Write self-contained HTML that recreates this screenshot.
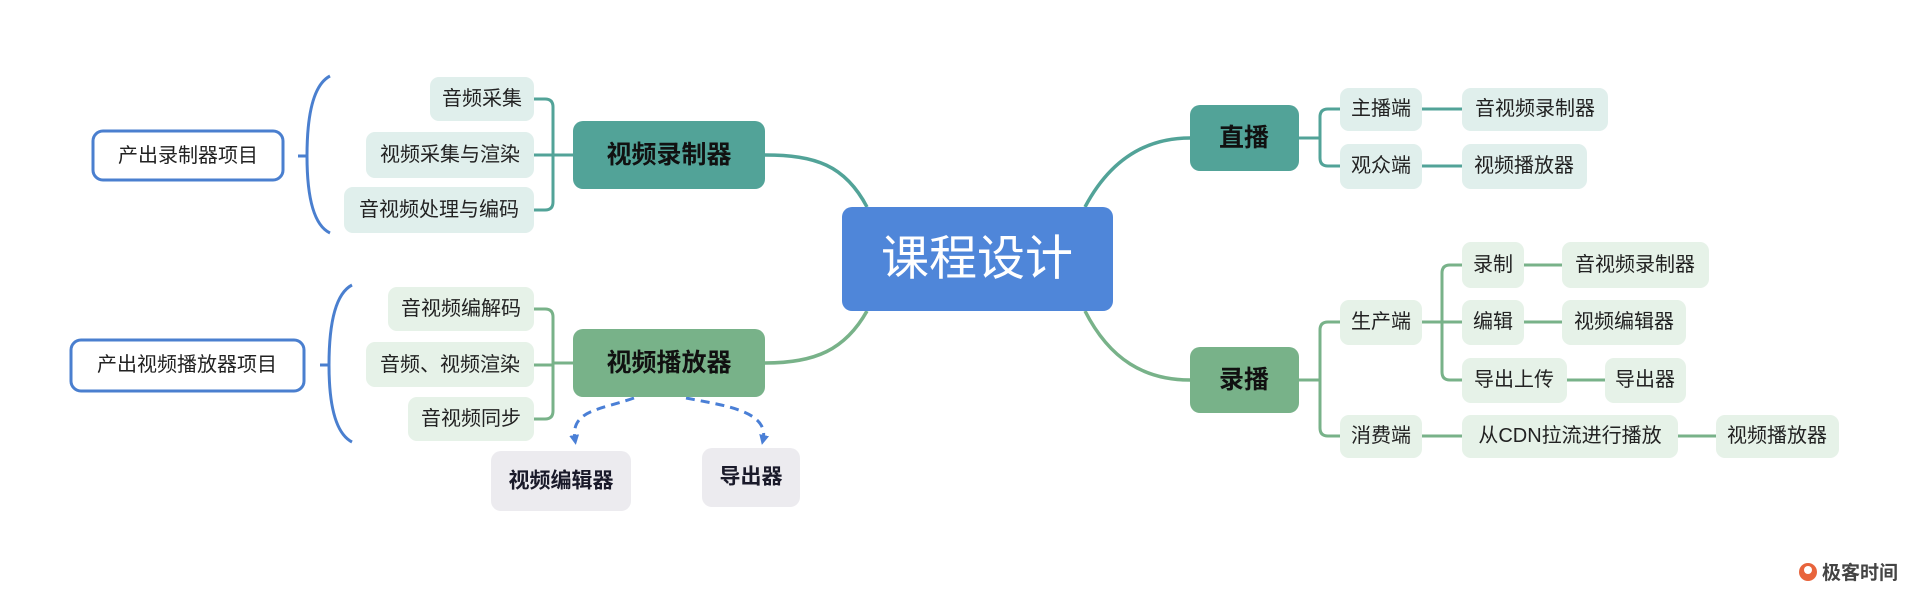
<!DOCTYPE html>
<html><head><meta charset="utf-8"><style>
html,body{margin:0;padding:0;background:#fff;}
svg{display:block;font-family:"Liberation Sans","Noto Sans CJK SC",sans-serif;}
</style></head><body>
<svg width="1920" height="597" viewBox="0 0 1920 597" xmlns="http://www.w3.org/2000/svg">
<defs>
<marker id="ah" markerWidth="10" markerHeight="10" refX="5" refY="5" orient="auto" markerUnits="userSpaceOnUse"><path d="M0,0 L10,5 L0,10 Z" fill="#4a7fd6"/></marker>
</defs>
<g fill="none" stroke-width="3.5">
<path d="M867,207 C845,165 815,155 765,155" stroke="#52a398"/>
<path d="M867,311 C845,350 815,363 765,363" stroke="#78b289"/>
<path d="M1085,207 C1110,160 1145,138 1190,138" stroke="#52a398"/>
<path d="M1085,311 C1110,360 1145,380 1190,380" stroke="#78b289"/>
</g>
<g fill="none" stroke-width="3">
<g stroke="#52a398">
<path d="M573,155 L553,155 M534,99 L545,99 Q553,99 553,107 L553,202 Q553,210 545,210 L534,210 M534,155 L553,155"/>
<path d="M1299,138 L1320,138 M1340,109 L1328,109 Q1320,109 1320,117 L1320,158 Q1320,166 1328,166 L1340,166"/>
<path d="M1422,109 L1462,109 M1422,166 L1462,166"/>
</g>
<g stroke="#78b289">
<path d="M573,363 L553,363 M534,309 L545,309 Q553,309 553,317 L553,411 Q553,419 545,419 L534,419 M534,365 L553,365"/>
<path d="M1299,380 L1320,380 M1340,322 L1328,322 Q1320,322 1320,330 L1320,428 Q1320,436 1328,436 L1340,436"/>
<path d="M1422,322 L1462,322 M1462,265 L1450,265 Q1442,265 1442,273 L1442,372 Q1442,380 1450,380 L1462,380"/>
<path d="M1524,265 L1562,265 M1524,322 L1562,322 M1567,380 L1605,380 M1422,436 L1462,436 M1678,436 L1716,436"/>
</g>
<g stroke="#4a7fcf">
<path d="M330,76 Q307,88 307,156 Q307,222 330,233 M298,156 L307,156"/>
<path d="M352,285 Q329,297 329,365 Q329,430 352,442 M320,365 L329,365"/>
</g>
<g stroke="#4a7fd6" stroke-dasharray="9,6" stroke-width="3">
<path d="M634,398 C600,410 570,410 575,440" marker-end="url(#ah)"/>
<path d="M686,398 C720,405 770,410 763,440" marker-end="url(#ah)"/>
</g>
</g>
<!-- boxes -->
<g>
<rect x="93" y="131" width="190" height="49" rx="10" fill="#fff" stroke="#4a7fcf" stroke-width="3"/>
<rect x="71" y="340" width="233" height="51" rx="10" fill="#fff" stroke="#4a7fcf" stroke-width="3"/>
<g fill="#e0efec">
<rect x="430" y="77" width="104" height="44" rx="9"/>
<rect x="366" y="132" width="168" height="46" rx="9"/>
<rect x="344" y="187" width="190" height="46" rx="9"/>
<rect x="1340" y="88" width="82" height="43" rx="9"/>
<rect x="1462" y="88" width="146" height="43" rx="9"/>
<rect x="1340" y="144" width="82" height="45" rx="9"/>
<rect x="1462" y="144" width="125" height="45" rx="9"/>
</g>
<g fill="#e6f2e8">
<rect x="388" y="287" width="146" height="44" rx="9"/>
<rect x="366" y="342" width="168" height="45" rx="9"/>
<rect x="408" y="397" width="126" height="44" rx="9"/>
<rect x="1340" y="300" width="82" height="45" rx="9"/>
<rect x="1462" y="242" width="62" height="46" rx="9"/>
<rect x="1562" y="242" width="147" height="46" rx="9"/>
<rect x="1462" y="300" width="62" height="45" rx="9"/>
<rect x="1562" y="300" width="124" height="45" rx="9"/>
<rect x="1462" y="358" width="105" height="45" rx="9"/>
<rect x="1605" y="358" width="81" height="45" rx="9"/>
<rect x="1340" y="415" width="82" height="43" rx="9"/>
<rect x="1462" y="415" width="216" height="43" rx="9"/>
<rect x="1716" y="415" width="123" height="43" rx="9"/>
</g>
<rect x="573" y="121" width="192" height="68" rx="10" fill="#52a398"/>
<rect x="573" y="329" width="192" height="68" rx="10" fill="#78b289"/>
<rect x="1190" y="105" width="109" height="66" rx="10" fill="#52a398"/>
<rect x="1190" y="347" width="109" height="66" rx="10" fill="#78b289"/>
<rect x="842" y="207" width="271" height="104" rx="10" fill="#4f86d9"/>
<rect x="491" y="451" width="140" height="60" rx="10" fill="#ecebef"/>
<rect x="702" y="448" width="98" height="59" rx="10" fill="#ecebef"/>
</g>
<!-- text -->
<g text-anchor="middle" dominant-baseline="central" fill="#222" font-size="20">
<text x="188" y="156">产出录制器项目</text>
<text x="187" y="365">产出视频播放器项目</text>
<text x="482" y="99">音频采集</text>
<text x="450" y="155">视频采集与渲染</text>
<text x="439" y="210">音视频处理与编码</text>
<text x="461" y="309">音视频编解码</text>
<text x="450" y="365">音频、视频渲染</text>
<text x="471" y="419">音视频同步</text>
<text x="1381" y="109">主播端</text>
<text x="1535" y="109">音视频录制器</text>
<text x="1381" y="166">观众端</text>
<text x="1524" y="166">视频播放器</text>
<text x="1381" y="322">生产端</text>
<text x="1493" y="265">录制</text>
<text x="1635" y="265">音视频录制器</text>
<text x="1493" y="322">编辑</text>
<text x="1624" y="322">视频编辑器</text>
<text x="1514" y="380">导出上传</text>
<text x="1645" y="380">导出器</text>
<text x="1381" y="436">消费端</text>
<text x="1570" y="436">从CDN拉流进行播放</text>
<text x="1777" y="436">视频播放器</text>
<g font-weight="bold" font-size="25" fill="#111">
<text x="669" y="155">视频录制器</text>
<text x="669" y="363">视频播放器</text>
<text x="1244" y="138">直播</text>
<text x="1244" y="380">录播</text>
</g>
<g font-weight="bold" font-size="21" fill="#1a1a2a">
<text x="561" y="481">视频编辑器</text>
<text x="751" y="477">导出器</text>
</g>
<text x="977" y="259" font-size="48" fill="#fff">课程设计</text>
</g>
<g>
<circle cx="1808" cy="572" r="9" fill="#e8643c"/>
<circle cx="1808" cy="570" r="4" fill="#fff"/>
<text x="1822" y="579" font-size="19" font-weight="bold" fill="#444">极客时间</text>
</g>
</svg>
</body></html>
